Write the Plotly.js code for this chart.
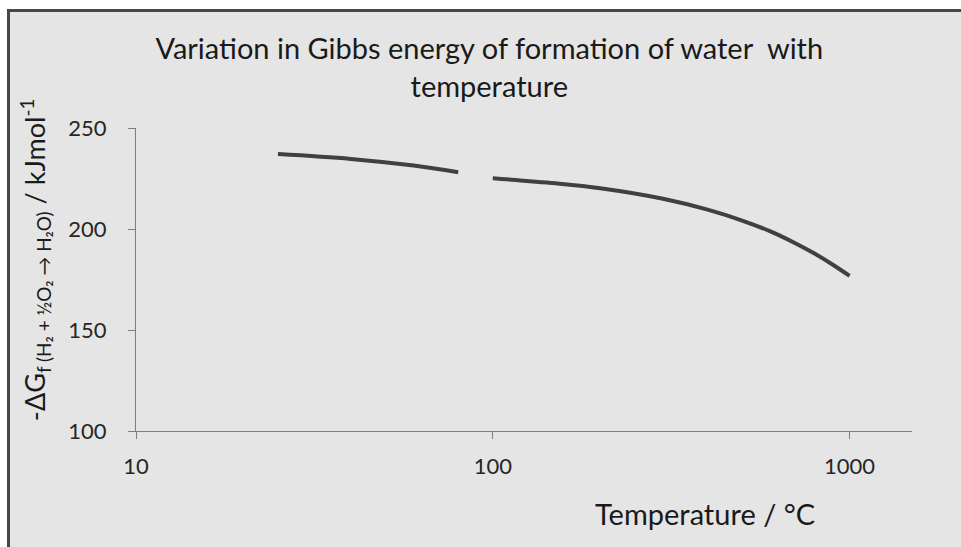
<!DOCTYPE html>
<html>
<head>
<meta charset="utf-8">
<script src="https://cdn.plot.ly/plotly-3.0.1.min.js"></script>
<style>
  html, body { margin: 0; padding: 0; background: #ffffff; width: 961px; height: 547px; overflow: hidden; }
  #frame { position: absolute; left: 7px; top: 9px; width: 951px; height: 535px;
           border-left: 3px solid #474747; border-top: 3px solid #474747; background: #e5e5e5; }
  #chart { position: absolute; left: 0; top: 0; width: 951px; height: 535px; }
</style>
</head>
<body>
<div id="frame"><div id="chart"></div></div>
<script>
// Liquid water region (°C) and -ΔGf (kJ/mol)
const tempLiquid = [25, 40, 60, 80];
const dgLiquid   = [237.1, 234.7, 231.4, 228.1];
// Steam region (°C) and -ΔGf (kJ/mol)
const tempGas = [100, 150, 200, 300, 400, 500, 600, 700, 800, 900, 1000];
const dgGas   = [225.1, 222.6, 220.2, 215.0, 209.6, 204.2, 198.8, 193.2, 187.7, 182.2, 176.8];

const xTickVals = [10, 100, 1000];
const xTickText = ['10', '100', '1000'];
const yTickVals = [100, 150, 200, 250];

const FONT = 'Lato, "Liberation Sans", sans-serif';
const lineStyle = { color: '#404040', width: 4, shape: 'spline' };

const traces = [
  { x: tempLiquid, y: dgLiquid, mode: 'lines', line: lineStyle, hoverinfo: 'x+y', showlegend: false },
  { x: tempGas, y: dgGas, mode: 'lines', line: lineStyle, hoverinfo: 'x+y', showlegend: false }
];

const layout = {
  width: 951, height: 535,
  margin: { l: 126, r: 49, t: 116, b: 116, pad: 0 },
  paper_bgcolor: 'rgba(0,0,0,0)',
  plot_bgcolor: 'rgba(0,0,0,0)',
  font: { family: FONT, color: '#262626', size: 20 },
  showlegend: false,
  xaxis: {
    type: 'log', range: [1, 3.175],
    tickvals: xTickVals, ticktext: xTickText,
    showline: true, linecolor: '#7f7f7f', linewidth: 1,
    ticks: 'outside', ticklen: 7, tickcolor: '#7f7f7f',
    showgrid: false, zeroline: false,
    tickfont: { family: FONT, size: 22, color: '#262626' },
    ticklabelstandoff: 9
  },
  yaxis: {
    range: [100, 250], tickvals: yTickVals,
    showline: true, linecolor: '#7f7f7f', linewidth: 1,
    ticks: 'outside', ticklen: 7, tickcolor: '#7f7f7f',
    showgrid: false, zeroline: false,
    tickfont: { family: FONT, size: 22, color: '#262626' },
    ticklabelstandoff: 17
  },
  title: {
    text: 'Variation in Gibbs energy of formation of water  with<br>temperature',
    font: { family: FONT, size: 29, color: '#1a1a1a' },
    x: 0.504, xref: 'container', xanchor: 'center',
    y: 0.96, yref: 'container', yanchor: 'top', pad: { t: 26 }
  },
  annotations: [
    {
      text: 'Temperature / °C',
      xref: 'paper', yref: 'paper', x: 0.733, y: -0.272,
      xanchor: 'center', yanchor: 'middle', showarrow: false,
      font: { family: FONT, size: 29, color: '#1a1a1a' }
    },
    {
      text: '-ΔG<sub>f (H₂ + ½O₂ → H₂O)</sub> / kJmol<sup>-1</sup>',
      xref: 'paper', yref: 'paper', x: -0.131, y: 0.565,
      xanchor: 'center', yanchor: 'middle', showarrow: false, textangle: -90,
      font: { family: FONT, size: 27, color: '#1a1a1a' }
    }
  ]
};

Plotly.newPlot('chart', traces, layout, { displayModeBar: false, staticPlot: true });
</script>
</body>
</html>
